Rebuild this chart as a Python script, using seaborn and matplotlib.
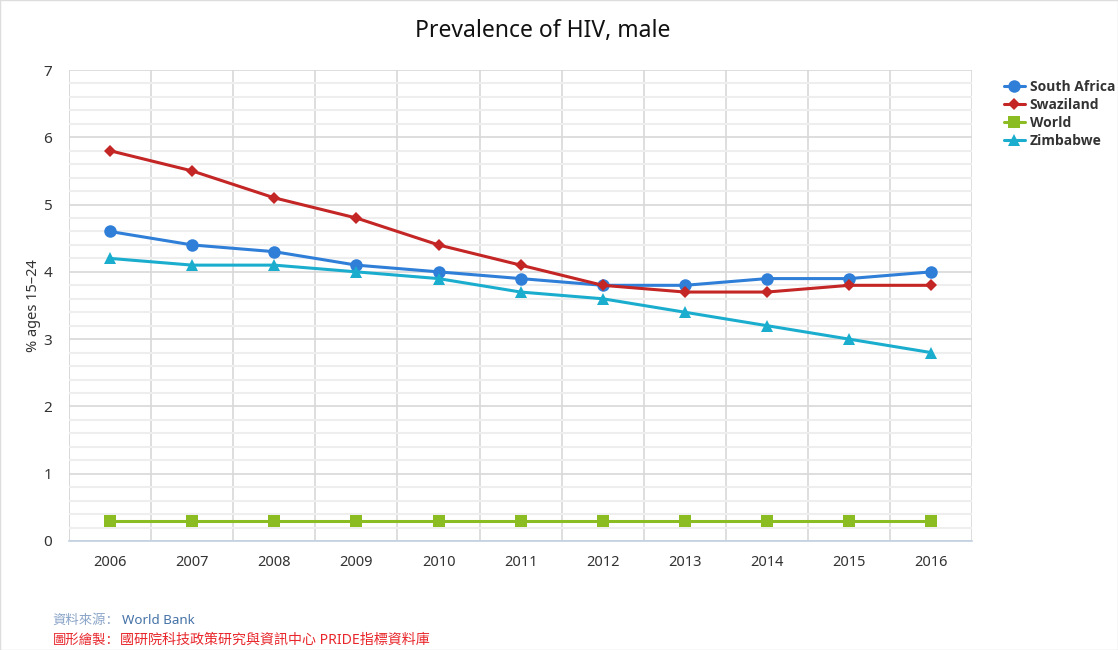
import numpy as np
import pandas as pd
import matplotlib.pyplot as plt
import seaborn as sns
from matplotlib.ticker import MultipleLocator
from matplotlib.lines import Line2D

years = [2006, 2007, 2008, 2009, 2010, 2011, 2012, 2013, 2014, 2015, 2016]
south_africa = [4.6, 4.4, 4.3, 4.1, 4.0, 3.9, 3.8, 3.8, 3.9, 3.9, 4.0]
swaziland = [5.8, 5.5, 5.1, 4.8, 4.4, 4.1, 3.8, 3.7, 3.7, 3.8, 3.8]
world = [0.3, 0.3, 0.3, 0.3, 0.3, 0.3, 0.3, 0.3, 0.3, 0.3, 0.3]
zimbabwe = [4.2, 4.1, 4.1, 4.0, 3.9, 3.7, 3.6, 3.4, 3.2, 3.0, 2.8]

series = ['South Africa', 'Swaziland', 'World', 'Zimbabwe']
colors = ['#2f7ed8', '#c42525', '#8bbc21', '#1aadce']
markers = ['o', 'D', 's', '^']
msizes = [9, 6, 8, 8]

df = pd.DataFrame({'year': years * 4,
                   'value': south_africa + swaziland + world + zimbabwe,
                   'country': sum([[s] * len(years) for s in series], [])})

sns.set_style('white')
plt.rcParams['font.family'] = ['Noto Sans', 'Noto Sans CJK SC', 'DejaVu Sans']

fig = plt.figure(figsize=(11.18, 6.5), dpi=100)
ax = fig.add_axes([0.0617, 0.1677, 0.808, 0.7246])

for s, c, m, ms in zip(series, colors, markers, msizes):
    sub = df[df['country'] == s]
    sns.lineplot(data=sub, x='year', y='value', color=c, marker=m,
                 markersize=ms, markeredgewidth=0, linewidth=2.2, ax=ax,
                 legend=False, zorder=3)

ax.set_xlim(2005.5, 2016.5)
ax.set_ylim(0, 7)
ax.set_xticks(years)
ax.set_xticklabels([str(y) for y in years])
ax.xaxis.set_minor_locator(MultipleLocator(1, offset=0.5))
ax.yaxis.set_major_locator(MultipleLocator(1))
ax.yaxis.set_minor_locator(MultipleLocator(0.2))

ax.grid(which='minor', axis='y', color='#eeeeee', linewidth=1.5, zorder=0)
ax.grid(which='major', axis='y', color='#d8d8d8', linewidth=1.2, zorder=0)
ax.grid(which='minor', axis='x', color='#d8d8d8', linewidth=1.2, zorder=0)
ax.set_axisbelow(True)

for side in ['top', 'right', 'left']:
    ax.spines[side].set_visible(False)
ax.spines['bottom'].set_color('#c0d0e0')
ax.spines['bottom'].set_linewidth(1.2)

ax.tick_params(axis='x', which='major', length=0, pad=10, labelsize=10.5, colors='#333333')
ax.tick_params(axis='x', which='minor', length=10, width=1.2, color='#c0d0e0')
ax.tick_params(axis='y', which='both', length=0, pad=12, labelsize=11, colors='#333333')
ax.axvline(2005.5, color='#d8d8d8', linewidth=1.2, zorder=0)

ax.set_xlabel('')
ax.set_ylabel('% ages 15\u201324', fontsize=10.5, color='#333333', labelpad=2)

fig.suptitle('Prevalence of HIV, male', x=0.485, y=0.97, fontsize=16.5, color='#111111')

handles = [Line2D([0], [0], color=c, marker=m, markersize=ms, markeredgewidth=0, linewidth=2.2)
           for c, m, ms in zip(colors, markers, msizes)]
leg = fig.legend(handles, series, loc='upper left', bbox_to_anchor=(0.893, 0.885),
                 frameon=False, handlelength=1.5, handletextpad=0.35, labelspacing=0.28,
                 borderaxespad=0, prop={'family': 'Open Sans', 'weight': 'bold', 'size': 10})
for t in leg.get_texts():
    t.set_color('#333333')

fig.text(0.047, 0.046, '資料來源：', fontsize=9.6, color='#8aa4c8', va='center')
fig.text(0.109, 0.046, 'World Bank', fontsize=9.6, color='#4572a7', va='center')
fig.text(0.047, 0.015, '圖形繪製：', fontsize=9.6, color='#e8262b', va='center')
fig.text(0.107, 0.015, '國研院科技政策研究與資訊中心 PRIDE指標資料庫', fontsize=10.1,
         color='#e8262b', va='center')

fig.patches.append(plt.Rectangle((0, 0), 1, 1, transform=fig.transFigure,
                                 fill=False, edgecolor='#dddddd', linewidth=1))

fig.savefig('out.png', dpi=100)
